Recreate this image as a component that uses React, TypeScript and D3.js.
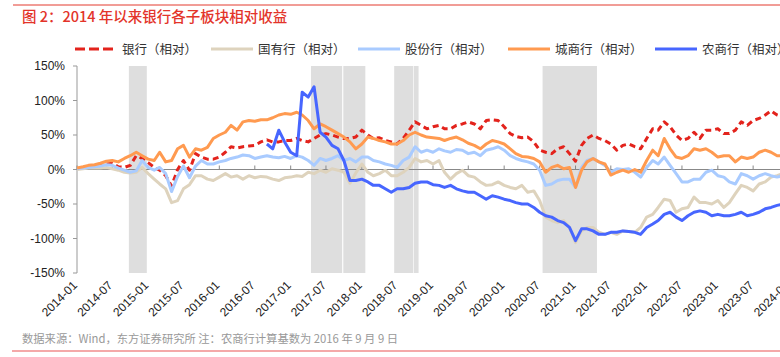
import React from 'react';
import * as d3 from 'd3';

// Monthly observation dates, 2014-01 .. 2024-01
const months: Date[] = d3.timeMonth.range(new Date(2014, 0, 1), new Date(2024, 1, 1));

// 银行（相对） %
const bank = [
  1, 3, 4, 5, 6, 8, 9, 4, 3, 6, 20, 16, 10, 3, -1, -9, -24, 0, 13, -1, 23, 18, 15, 15, 18, 25, 33, 31, 33, 34, 35,
  40, 43, 40, 40, 42, 42, 45, 42, 40, 45, 50, 52, 50, 47, 45, 45, 47, 57, 50, 45, 46, 42, 40, 37, 45, 57, 69, 64, 59, 62,
  64, 59, 59, 64, 66, 69, 66, 59, 71, 72, 71, 62, 52, 48, 46, 47, 40, 28, 25, 23, 30, 33, 23, 12, 35, 45, 50, 45, 42, 37,
  28, 35, 37, 33, 30, 45, 59, 57, 69, 62, 50, 42, 45, 54, 45, 57, 57, 59, 52, 52, 57, 69, 64, 71, 74, 79, 85, 79, 76, 74,
];
// 国有行（相对） %
const stateOwned = [
  0, 1, 2, 2, 2, 3, 1, -1, -4, -5, -4, 3, -6, -14, -21, -28, -48, -45, -28, -22, -9, -9, -14, -16, -11, -6, -11, -9, -14, -9, -12,
  -10, -11, -14, -16, -12, -11, -9, -10, -4, -6, -1, -4, 1, -1, -4, -20, -5, 8, -4, -9, -6, -1, -9, -9, -4, 3, 16, 11, 13, 8,
  13, -4, -14, -6, -1, -9, -11, -18, -23, -22, -18, -23, -26, -28, -23, -33, -31, -45, -69, -74, -77, -74, -84, -106, -89, -84, -84, -91, -94, -91,
  -94, -89, -90, -91, -84, -69, -65, -55, -43, -45, -62, -57, -55, -40, -48, -48, -50, -45, -55, -48, -35, -23, -26, -31, -21, -18, -11, -9, -6, -4,
];
// 股份行（相对） %
const jointStock = [
  1, 2, 3, 4, 5, 7, 6, 2, -1, -4, -2, 13, 3, -1, 3, -6, -32, -10, 5, -12, 5, 13, 8, 8, 11, 13, 16, 18, 21, 20, 16,
  18, 20, 18, 17, 19, 16, 20, 18, 13, 6, 16, 13, 16, 20, 13, 16, 11, 18, 18, 13, 11, 8, 6, 3, 13, 18, 33, 25, 28, 25,
  30, 27, 25, 29, 28, 23, 25, 20, 28, 30, 33, 28, 20, 16, 13, 11, 8, -1, -23, -21, -16, -14, -14, -26, 3, 13, 16, 11, 6, -4,
  1, 0, 1, -4, -11, 3, 13, 8, 18, 6, -6, -18, -18, -14, -14, -4, -1, -9, -11, -18, -21, -6, -9, -14, -9, -6, -9, -11, -9, -9,
];
// 城商行（相对） %
const cityBank = [
  2, 4, 6, 7, 9, 12, 13, 11, 16, 20, 25, 20, 15, 13, 25, 11, 13, 30, 35, 18, 30, 28, 32, 45, 50, 54, 64, 57, 69, 71, 70,
  72, 72, 75, 79, 81, 80, 83, 79, 71, 59, 66, 62, 57, 52, 47, 40, 30, 37, 47, 45, 42, 40, 37, 37, 42, 50, 54, 50, 47, 46,
  45, 42, 45, 47, 43, 38, 35, 30, 37, 42, 40, 37, 30, 23, 19, 18, 16, 11, -4, 3, 6, 1, 3, -26, -1, 11, 16, 11, 8, -8,
  -4, -1, -4, 0, -4, 13, 28, 20, 45, 30, 18, 16, 20, 30, 28, 30, 25, 18, 20, 20, 11, 18, 16, 18, 25, 28, 25, 20, 20, 21,
];
// 农商行（相对） %, base date 2016-09
const ruralStart = new Date(2016, 8, 1);
const rural = [
  37, 30, 57, 40, 25, 20, 112, 105, 120, 54, 47, 35, 30, 13, -16, -16, -14, -18, -23, -23, -28, -33, -28, -28, -26, -20, -18, -18, -22,
  -23, -26, -23, -28, -31, -33, -33, -38, -43, -38, -40, -43, -45, -48, -50, -50, -55, -62, -67, -69, -74, -77, -84, -103, -86, -86, -89, -94, -94, -91,
  -91, -89, -90, -91, -94, -84, -79, -74, -65, -62, -69, -74, -67, -62, -60, -62, -67, -65, -67, -67, -65, -62, -67, -65, -62, -57, -55, -52, -50, -51,
];

const seriesNames = ['银行（相对）', '国有行（相对）', '股份行（相对）', '城商行（相对）', '农商行（相对）'];
const seriesColors = ['#e3231c', '#ded3bd', '#a9cbff', '#ff9a50', '#4766ff'];

const xTickLabels = [
  '2014-01', '2014-07', '2015-01', '2015-07', '2016-01', '2016-07', '2017-01', '2017-07', '2018-01', '2018-07',
  '2019-01', '2019-07', '2020-01', '2020-07', '2021-01', '2021-07', '2022-01', '2022-07', '2023-01', '2023-07', '2024-01',
];
const yTicks = [150, 100, 50, 0, -50, -100, -150];

const shadedPeriods: [string, string][] = [
  ['2014-09-24', '2014-12-25'],
  ['2017-04-15', '2017-09-22'],
  ['2017-09-28', '2018-01-19'],
  ['2018-06-16', '2018-09-22'],
  ['2018-09-25', '2018-10-19'],
  ['2020-07-16', '2021-04-21'],
];

const title = '图 2：2014 年以来银行各子板块相对收益';
const footer = '数据来源：Wind，东方证券研究所 注：农商行计算基数为 2016 年 9 月 9 日';

const W = 780;
const H = 357;
const parse = d3.timeParse('%Y-%m-%d');
const parseMonth = d3.timeParse('%Y-%m');

export default function App() {
  const x = d3.scaleTime().domain([new Date(2014, 0, 1), new Date(2024, 0, 1)]).range([77, 789]);
  const y = d3.scaleLinear().domain([-150, 150]).range([273, 66]);

  const ruralOffset = d3.timeMonth.count(months[0], ruralStart);
  const allSeries: (number | null)[][] = [
    bank,
    stateOwned,
    jointStock,
    cityBank,
    months.map((_, i) => (i >= ruralOffset && i - ruralOffset < rural.length ? rural[i - ruralOffset] : null)),
  ];

  const line = d3
    .line<number | null>()
    .defined((d) => d !== null)
    .x((_, i) => x(months[i]))
    .y((d) => y(d as number));

  const legendX = [75, 211, 358, 508, 655];
  const cjk = '"Noto Sans CJK SC", "Noto Sans", sans-serif';
  const latin = '"Liberation Sans", Arial, sans-serif';

  return (
    <svg width={W} height={H} style={{ position: 'absolute', left: 0, top: 0, background: '#fff' }}>
      <defs>
        <clipPath id="plot">
          <rect x={77} y={60} width={W - 77} height={220} />
        </clipPath>
      </defs>
      <line x1={13} x2={W} y1={5} y2={5} stroke="#e33b2e" strokeWidth={1} />
      <text x={22} y={22} fill="#e3342a" fontSize={14.5} fontFamily={cjk} fontWeight={500}>
        {title}
      </text>

      {/* legend */}
      {seriesNames.map((name, i) => (
        <g key={name}>
          <line
            x1={legendX[i]}
            x2={legendX[i] + (i === 0 ? 38 : 42)}
            y1={49}
            y2={49}
            stroke={seriesColors[i]}
            strokeWidth={3}
            strokeDasharray={i === 0 ? '10 4' : undefined}
          />
          <text x={legendX[i] + 47} y={53.5} fontSize={12.5} fill="#333" fontFamily={cjk}>
            {name}
          </text>
        </g>
      ))}

      {/* shaded periods */}
      {shadedPeriods.map(([a, b]) => (
        <rect
          key={a}
          x={x(parse(a)!)}
          y={66}
          width={x(parse(b)!) - x(parse(a)!)}
          height={207}
          fill="#dedede"
        />
      ))}

      {/* y axis */}
      <line x1={77} x2={77} y1={66} y2={273} stroke="#999" />
      {yTicks.map((t) => (
        <g key={t}>
          <line x1={73} x2={77} y1={y(t)} y2={y(t)} stroke="#999" />
          <text x={65} y={y(t)} dy="0.36em" textAnchor="end" fontSize={12} fill="#222" fontFamily={latin}>
            {t}%
          </text>
        </g>
      ))}

      {/* zero axis */}
      <line x1={77} x2={W} y1={y(0)} y2={y(0)} stroke="#888" />
      {xTickLabels.map((lab) => {
        const px = x(parseMonth(lab)!);
        return (
          <g key={lab}>
            <line x1={px} x2={px} y1={y(0)} y2={y(0) - 4} stroke="#888" />
            <text
              transform={`translate(${px + 1},${286}) rotate(-45)`}
              textAnchor="end"
              fontSize={12}
              fill="#222"
              fontFamily={latin}
            >
              {lab}
            </text>
          </g>
        );
      })}

      {/* series */}
      <g clipPath="url(#plot)">
        {allSeries.map((s, i) => (
          <path
            key={seriesNames[i]}
            d={line(s) || ''}
            fill="none"
            stroke={seriesColors[i]}
            strokeWidth={3}
            strokeLinejoin="round"
            strokeDasharray={i === 0 ? '6 4' : undefined}
          />
        ))}
      </g>

      <text x={22} y={343} fontSize={11.3} fill="#999" fontFamily={cjk}>
        {footer}
      </text>
      <line x1={12} x2={W} y1={351} y2={351} stroke="#f08c8c" strokeWidth={1.5} />
    </svg>
  );
}
